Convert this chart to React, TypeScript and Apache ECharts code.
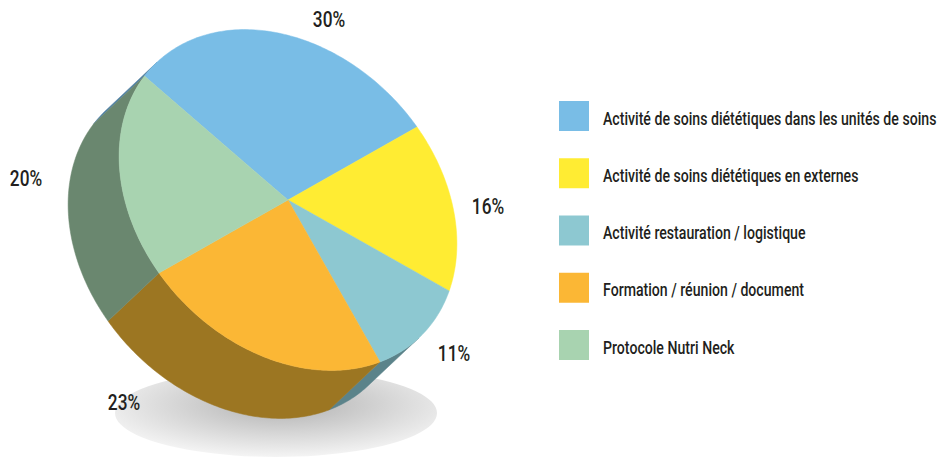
import React, { useEffect, useRef } from "react";
import * as echarts from "echarts";

// ---- data ----
const CATEGORIES = [
  "Activité de soins diététiques dans les unités de soins",
  "Activité de soins diététiques en externes",
  "Activité restauration / logistique",
  "Formation / réunion / document",
  "Protocole Nutri Neck",
];
const VALUES = [30, 16, 11, 23, 20];

// ---- styles ----
const TOP_COLORS = ["#79BDE6", "#FFEC33", "#8DC8D1", "#FBB735", "#A8D3B0"];
const SIDE_COLORS = ["#4F7FA0", "#A89A1E", "#5B838A", "#9C7622", "#6A876F"];
const FONT = "Roboto, 'Liberation Sans', Arial, sans-serif";
const FONT_WEIGHT = 500;
const NARROW = 0.785; // horizontal squeeze to mimic the condensed face
const TEXT_COLOR = "#231F20";

// ---- layout (projection of the tilted disc) ----
const CENTER = [288, 200];
const AXIS_A = [129, -73];
const AXIS_B = [109, 154];
const DEPTH = [-51, 48];
const START_ANGLE = -108;
const LABEL_POS = [
  [329, 20],
  [488, 207],
  [454, 354],
  [124, 403],
  [26, 179],
];
const LEGEND_LEFT = 559;
const LEGEND_TOP = 101;
const LEGEND_STEP = 57.25;
const LEGEND_BOX = 30;
const LEGEND_TEXT_X = 603;

const rad = (d: number) => (d * Math.PI) / 180;
const rim = (deg: number, off: number[] = [0, 0]) => {
  const c = Math.cos(rad(deg));
  const s = Math.sin(rad(deg));
  return [
    CENTER[0] + c * AXIS_A[0] + s * AXIS_B[0] + off[0],
    CENTER[1] + c * AXIS_A[1] + s * AXIS_B[1] + off[1],
  ];
};
const arc = (a0: number, a1: number, off?: number[]) => {
  const pts: number[][] = [];
  const n = Math.max(2, Math.ceil(Math.abs(a1 - a0)));
  for (let k = 0; k <= n; k++) pts.push(rim(a0 + ((a1 - a0) * k) / n, off));
  return pts;
};

const total = VALUES.reduce((s, v) => s + v, 0);
const sliceRange = (i: number) => {
  let acc = 0;
  for (let k = 0; k < i; k++) acc += VALUES[k];
  const a0 = START_ANGLE + (acc / total) * 360;
  const a1 = a0 + (VALUES[i] / total) * 360;
  return [a0, a1];
};

// front-facing range of the rim (visible side wall)
const det = AXIS_A[0] * AXIS_B[1] - AXIS_B[0] * AXIS_A[1];
const ex = (AXIS_B[1] * DEPTH[0] - AXIS_B[0] * DEPTH[1]) / det;
const ey = (-AXIS_A[1] * DEPTH[0] + AXIS_A[0] * DEPTH[1]) / det;
const frontMid = (Math.atan2(ey, ex) * 180) / Math.PI;

export default function App() {
  const ref = useRef<HTMLDivElement>(null);
  useEffect(() => {
    if (!ref.current) return;
    const chart = echarts.init(ref.current, undefined, { renderer: "svg" });

    const legendItems: any[] = [];
    CATEGORIES.forEach((name, i) => {
      const top = LEGEND_TOP + i * LEGEND_STEP;
      legendItems.push({
        type: "rect",
        z: 5,
        silent: true,
        shape: { x: LEGEND_LEFT, y: top, width: LEGEND_BOX, height: LEGEND_BOX },
        style: { fill: TOP_COLORS[i] },
      });
      legendItems.push({
        type: "text",
        z: 5,
        silent: true,
        x: LEGEND_TEXT_X,
        y: top + LEGEND_BOX / 2 + 2.4,
        scaleX: NARROW,
        style: {
          text: name,
          x: 0,
          y: 0,
          textAlign: "left",
          textVerticalAlign: "middle",
          fontFamily: FONT,
          fontWeight: FONT_WEIGHT,
          fontSize: 18,
          fill: TEXT_COLOR,
        },
      });
    });

    chart.setOption({
      animation: false,
      backgroundColor: "#ffffff",
      graphic: [
        {
          type: "circle",
          z: 0,
          x: 276,
          y: 413,
          scaleY: 44 / 161,
          shape: { cx: 0, cy: 0, r: 161 },
          silent: true,
          style: {
            fill: new echarts.graphic.RadialGradient(0.52, 0.4, 0.6, [
              { offset: 0, color: "#b0b0b0" },
              { offset: 0.55, color: "#d6d6d6" },
              { offset: 1, color: "#f4f4f4" },
            ]),
          },
        },
        ...legendItems,
      ],
      series: [
        {
          type: "custom",
          name: "side",
          coordinateSystem: "none",
          z: 2,
          silent: true,
          data: VALUES,
          renderItem: (params: any) => {
            const i = params.dataIndex;
            const [a0, a1] = sliceRange(i);
            const children: any[] = [];
            for (const k of [-360, 0, 360]) {
              const lo = Math.max(a0, frontMid - 90 + k);
              const hi = Math.min(a1, frontMid + 90 + k);
              if (hi > lo) {
                const top = arc(lo, hi);
                const bottom = arc(lo, hi, DEPTH).reverse();
                children.push({
                  type: "polygon",
                  shape: { points: top.concat(bottom) },
                  style: { fill: SIDE_COLORS[i], stroke: SIDE_COLORS[i], lineWidth: 0.5 },
                });
              }
            }
            return { type: "group", children };
          },
        },
        {
          type: "custom",
          name: "top",
          coordinateSystem: "none",
          z: 3,
          silent: true,
          data: VALUES,
          renderItem: (params: any, api: any) => {
            const i = params.dataIndex;
            const [a0, a1] = sliceRange(i);
            const pts = [CENTER].concat(arc(a0, a1));
            return {
              type: "group",
              children: [
                {
                  type: "polygon",
                  shape: { points: pts },
                  style: { fill: TOP_COLORS[i], stroke: TOP_COLORS[i], lineWidth: 0.5 },
                },
                {
                  type: "text",
                  x: LABEL_POS[i][0],
                  y: LABEL_POS[i][1],
                  scaleX: NARROW,
                  style: {
                    text: `${api.value(0)}%`,
                    x: 0,
                    y: 0,
                    textAlign: "center",
                    textVerticalAlign: "middle",
                    fontFamily: FONT,
                    fontWeight: FONT_WEIGHT,
                    fontSize: 22,
                    fill: TEXT_COLOR,
                  },
                },
              ],
            };
          },
        },
      ],
    });
    return () => chart.dispose();
  }, []);
  return (
    <div
      ref={ref}
      style={{ position: "absolute", left: 0, top: 0, width: 947, height: 459 }}
    />
  );
}
